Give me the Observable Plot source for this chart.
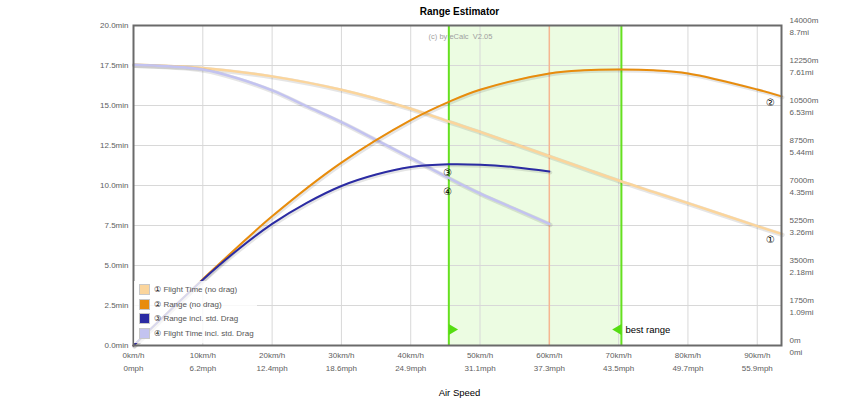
<!DOCTYPE html>
<html>
<head>
<meta charset="utf-8">
<script src="https://cdn.jsdelivr.net/npm/d3@7"></script>
<script src="https://cdn.jsdelivr.net/npm/@observablehq/plot@0.6"></script>
<style>
  body { margin: 0; background: #fff; font-family: "Liberation Sans", Arial, sans-serif; }
  #wrap { position: relative; width: 849px; height: 404px; }
  #legend { position: absolute; left: 134px; top: 281px; width: 123px; height: 62px;
            background: rgba(255,255,255,0.82); font-size: 8px; color: #555; }
  .row { position: absolute; left: 5px; height: 11px; line-height: 11px; white-space: nowrap; }
  .sw { display: inline-block; width: 9px; height: 9px; border: 1px solid #c8c8c8; vertical-align: middle; margin-right: 4px; }
  .row span.t { vertical-align: middle; }
</style>
</head>
<body>
<div id="wrap"></div>
<script>
// ---- data ----
const kmhTicks = [0, 10, 20, 30, 40, 50, 60, 70, 80, 90];
const mphTicks = ["0", "6.2", "12.4", "18.6", "24.9", "31.1", "37.3", "43.5", "49.7", "55.9"];
const minTicks = [0, 2.5, 5, 7.5, 10, 12.5, 15, 17.5, 20];
const rangeMeterTicks = [0, 1750, 3500, 5250, 7000, 8750, 10500, 12250, 14000];
const rangeMileTicks = ["0", "1.09", "2.18", "3.26", "4.35", "5.44", "6.53", "7.61", "8.7"];

// no-drag series (speed km/h)
const speedNoDrag = [0, 10, 20, 30, 40, 45.5, 50, 60, 65, 70, 75, 80, 90, 93.5];
const flightTimeNoDrag = [17.55, 17.35, 16.82, 15.98, 14.8, 14.0, 13.35, 11.83, 11.07, 10.31, 9.6, 8.9, 7.46, 6.98]; // min
const rangeNoDrag = [0, 2900, 5650, 8000, 9860, 10660, 11190, 11900, 12040, 12070, 12040, 11900, 11200, 10900]; // m

// incl. std. drag series
const speedDrag = [0, 5, 10, 15, 20, 25, 30, 35, 40, 45.5, 50, 55, 60];
const rangeDrag = [0, 1455, 2880, 4180, 5320, 6240, 6980, 7480, 7810, 7930, 7910, 7800, 7610]; // m
const flightTimeDrag = [17.55, 17.45, 17.25, 16.7, 15.94, 14.95, 13.96, 12.85, 11.72, 10.47, 9.5, 8.55, 7.6]; // min

// best range band and optimum marker
const bestRangeFrom = 45.5;
const bestRangeTo = 70.4;
const optimumSpeed = 60;

// series labels on chart
const markerText = ["①", "②", "③", "④"];
const markerSpeed = [91.9, 91.9, 45.35, 45.35];
const markerMin = [6.6, 15.17, 10.77, 9.58];

const seriesNames = ["Flight Time (no drag)", "Range (no drag)", "Range incl. std. Drag", "Flight Time incl. std. Drag"];
const seriesColors = ["#fbd59c", "#e88c0c", "#2b2ba3", "#c3c3f0"];

// ---- build tables ----
const m2min = 20 / 14000; // range axis 0..14000 m shares the 0..20 min axis
const tFT = speedNoDrag.map((v, i) => ({v, y: flightTimeNoDrag[i]}));
const tRN = speedNoDrag.map((v, i) => ({v, y: rangeNoDrag[i] * m2min}));
const tRD = speedDrag.map((v, i) => ({v, y: rangeDrag[i] * m2min}));
const tFD = speedDrag.map((v, i) => ({v, y: flightTimeDrag[i]}));
const markers = markerText.map((s, i) => ({s, v: markerSpeed[i], y: markerMin[i]}));

const font = '"Liberation Sans", Arial, sans-serif';
function series(data, color, w) {
  return [
    Plot.line(data, {x: "v", y: "y", curve: "catmull-rom", stroke: "#000", strokeOpacity: 0.1, strokeWidth: w + 2, dx: 1, dy: 1}),
    Plot.line(data, {x: "v", y: "y", curve: "catmull-rom", stroke: color, strokeWidth: w})
  ];
}

const chart = Plot.plot({
  width: 849,
  height: 404,
  marginLeft: 133,
  marginRight: 68,
  marginTop: 25,
  marginBottom: 59,
  style: {fontFamily: font, fontSize: "8px", color: "#606060", background: "#fff"},
  x: {domain: [0, 93.5], label: null},
  y: {domain: [0, 20], label: null},
  marks: [
    Plot.rect([{a: bestRangeFrom, b: bestRangeTo}], {x1: "a", x2: "b", y1: 0, y2: 20, fill: "#ecfce2"}),
    Plot.gridX(kmhTicks.slice(1), {stroke: "#d8d8d8", strokeOpacity: 1}),
    Plot.gridY(minTicks.slice(1, -1), {stroke: "#d8d8d8", strokeOpacity: 1}),
    Plot.ruleX([optimumSpeed], {stroke: "#f6b790", strokeWidth: 1.5}),
    Plot.ruleX([bestRangeFrom, bestRangeTo], {stroke: "#66e020", strokeWidth: 2}),
    ...series(tFT, seriesColors[0], 2.5),
    ...series(tFD, seriesColors[3], 2.5),
    ...series(tRN, seriesColors[1], 2),
    ...series(tRD, seriesColors[2], 2),
    Plot.text(markers, {x: "v", y: "y", text: "s", fill: "#000", fontSize: 10, fontFamily: "DejaVu Sans"}),
    Plot.dot([bestRangeFrom], {x: d => d, y: 1.0, symbol: "triangle", rotate: 90, r: 4, fill: "#55dd11", stroke: "none", dx: 3}),
    Plot.dot([bestRangeTo], {x: d => d, y: 1.0, symbol: "triangle", rotate: -90, r: 4, fill: "#55dd11", stroke: "none", dx: -3}),
    Plot.text(["best range"], {x: bestRangeTo, y: 1.0, text: d => d, textAnchor: "start", dx: 4, fontSize: 9.5, fill: "#000"}),
    Plot.frame({stroke: "#6a6a6a", strokeWidth: 2}),
    Plot.axisY(minTicks, {anchor: "left", tickSize: 0, tickPadding: 5, tickFormat: d => d.toFixed(1) + "min", label: null, fontSize: 8, fill: "#606060"}),
    Plot.axisY(minTicks, {anchor: "right", tickSize: 0, tickPadding: 8, label: null, fontSize: 8, fill: "#606060", lineHeight: 1.45,
      tickFormat: d => { const i = minTicks.indexOf(d); return rangeMeterTicks[i] + "m\n" + rangeMileTicks[i] + "mi"; }}),
    Plot.axisX(kmhTicks, {anchor: "bottom", tickSize: 0, tickPadding: 4, label: null, fontSize: 8, fill: "#606060", lineHeight: 1.55,
      tickFormat: d => d + "km/h\n" + mphTicks[kmhTicks.indexOf(d)] + "mph"}),
    Plot.text(["Range Estimator"], {frameAnchor: "top", text: d => d, dy: -18, fontSize: 10, fontWeight: "bold", fill: "#000", dx: 2}),
    Plot.text(["(c) by eCalc  V2.05"], {frameAnchor: "top", text: d => d, dy: 8, fontSize: 7.5, fill: "#a0a0a0", dx: 3}),
    Plot.text(["Air Speed"], {frameAnchor: "bottom", text: d => d, dy: 50, fontSize: 9.5, fill: "#000", dx: 2})
  ]
});

const wrap = document.getElementById("wrap");
wrap.appendChild(chart);

// legend (HTML overlay, semi-transparent like the original)
const legend = document.createElement("div");
legend.id = "legend";
const rowTops = [3, 17.5, 32, 47];
seriesNames.forEach((name, i) => {
  const r = document.createElement("div");
  r.className = "row";
  r.style.top = rowTops[i] + "px";
  r.innerHTML = `<span class="sw" style="background:${seriesColors[i]}"></span><span class="t"><span style="font-family:'DejaVu Sans';color:#222">${markerText[i]}</span> ${name}</span>`;
  legend.appendChild(r);
});
wrap.appendChild(legend);
</script>
</body>
</html>
